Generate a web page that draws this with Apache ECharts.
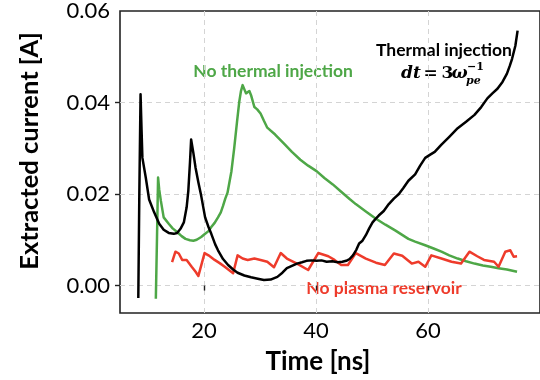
<!DOCTYPE html>
<html><head><meta charset="utf-8">
<script src="https://cdn.jsdelivr.net/npm/echarts@6/dist/echarts.min.js"></script>
<style>html,body{margin:0;padding:0;background:#fff}#c{width:540px;height:380px}</style>
</head><body><div id="c"></div>
<script>
// ---- data ----
const xTicks = [20, 40, 60];
const yTicks = [0, 0.02, 0.04, 0.06];
const yGrid = [0, 0.02, 0.04];

const thermalTime = [8.27,8.45,8.67,8.85,9.0,9.6,10.2,11.1,12.0,12.8,13.7,14.6,15.2,15.8,16.4,16.9,17.2,17.5,17.7,18.1,18.5,19.0,19.5,20.2,20.8,21.3,22.0,22.5,23.4,24.3,25.2,26.0,27.2,28.4,29.6,30.7,31.9,33.1,34.0,34.8,35.7,36.6,37.5,38.3,39.2,40.1,41.0,41.9,42.9,43.9,44.7,45.4,46.0,46.6,47.2,47.7,48.3,48.9,49.5,50.1,50.6,51.2,52.1,53.0,53.9,54.8,55.6,56.5,57.7,58.6,59.5,60.4,61.2,62.4,63.8,65.3,66.8,68.3,69.5,70.6,71.5,72.4,73.3,74.1,74.6,75.0,75.6,76.0];
const thermalCurrent = [-0.0027,0.02,0.0418,0.034,0.0279,0.0236,0.0188,0.016,0.0135,0.0122,0.0115,0.0113,0.0115,0.0124,0.0138,0.0171,0.0207,0.027,0.0319,0.029,0.0257,0.0225,0.0196,0.0149,0.0128,0.0113,0.009,0.0077,0.0058,0.0045,0.0035,0.0028,0.0022,0.0018,0.0015,0.0012,0.0013,0.0019,0.0028,0.0038,0.0043,0.0048,0.0051,0.0054,0.0055,0.0054,0.0055,0.0052,0.0053,0.0051,0.0052,0.0054,0.0058,0.0066,0.0078,0.0092,0.0098,0.011,0.0125,0.0138,0.0145,0.0153,0.0163,0.0178,0.019,0.02,0.0213,0.0229,0.0243,0.0262,0.0279,0.0286,0.0292,0.0308,0.0325,0.0344,0.0358,0.0373,0.039,0.0409,0.042,0.043,0.0445,0.0463,0.048,0.0495,0.0524,0.0557];

const noThermalTime = [11.4,11.6,11.8,12.0,12.3,12.8,13.7,14.4,15.2,16.0,16.7,17.5,18.1,18.7,19.5,20.2,20.8,21.3,21.9,22.5,23.0,23.4,23.8,24.2,24.9,25.4,25.9,26.3,26.6,26.9,27.2,27.5,27.8,28.1,28.4,29.0,29.5,30.1,30.7,31.3,32.7,34.2,35.7,37.2,38.6,40.1,41.5,43.0,44.5,46.0,47.1,48.9,50.7,52.4,54.2,56.5,57.7,59.5,61.0,62.4,63.8,65.3,66.8,68.3,69.8,71.2,72.6,74.1,75.9];
const noThermalCurrent = [-0.0029,0.01,0.0236,0.021,0.0185,0.0149,0.0135,0.0125,0.0117,0.0108,0.0102,0.0099,0.0098,0.01,0.0106,0.0113,0.0119,0.0128,0.0137,0.0149,0.016,0.0174,0.019,0.0203,0.025,0.0301,0.0358,0.0402,0.0425,0.0438,0.0434,0.042,0.0416,0.0425,0.0416,0.039,0.0385,0.0376,0.036,0.0345,0.033,0.0311,0.0292,0.0275,0.0262,0.025,0.0235,0.0221,0.0205,0.0189,0.0178,0.0162,0.0146,0.0133,0.012,0.0102,0.0096,0.0088,0.0081,0.0074,0.0066,0.0059,0.0053,0.0048,0.0044,0.0041,0.0038,0.0035,0.003];

const noPlasmaTime = [14.3,14.9,15.5,16.1,16.9,17.8,18.5,19.0,19.3,20.1,20.8,21.9,22.8,23.7,25.2,25.5,26.0,26.9,27.8,29.0,30.1,31.3,32.5,33.7,34.8,36.6,38.6,40.4,42.2,43.3,44.5,45.7,47.1,48.9,50.7,52.3,53.9,55.4,57.1,58.3,59.5,60.6,62.4,64.2,65.9,67.4,68.8,70.0,71.8,72.6,73.8,74.7,75.3,75.9];
const noPlasmaCurrent = [0.0051,0.0074,0.007,0.0056,0.0056,0.0041,0.003,0.0021,0.0018,0.0071,0.0066,0.0056,0.0049,0.0041,0.0027,0.0023,0.0066,0.0059,0.0056,0.0059,0.0056,0.0052,0.004,0.0071,0.0059,0.0048,0.0034,0.0071,0.0064,0.0056,0.0045,0.0045,0.0071,0.0059,0.005,0.0045,0.007,0.0065,0.0048,0.0052,0.0041,0.0066,0.0059,0.0052,0.0048,0.0074,0.0064,0.0056,0.0052,0.0041,0.0074,0.0077,0.0063,0.0064];

const zip = (a, b) => a.map((v, i) => [v, b[i]]);

const GREEN = '#4ea747', RED = '#ee3b2b', BLACK = '#000';
const chart = echarts.init(document.getElementById('c'), null, {renderer: 'canvas'});
const lineSeries = (data, color) => ({
  type: 'line', data, showSymbol: false, symbol: 'none', smooth: false,
  lineStyle: {color, width: 2.5, join: 'round'}, itemStyle: {color}, animation: false
});
const mathText = (x, y, text, size, italic, align) => ({
  type: 'text', x, y, style: {text, fontFamily: 'DejaVu Serif', fontSize: size, fontWeight: 'bold',
    fontStyle: italic ? 'italic' : 'normal', fill: '#000', align, verticalAlign: 'middle'}
});
chart.setOption({
  animation: false,
  backgroundColor: '#fff',
  grid: {left: 120, top: 8.5, right: -7, bottom: 67, show: true, borderColor: '#222', borderWidth: 1.6, backgroundColor: 'transparent'},
  xAxis: {
    type: 'value', min: 5, max: 80,
    axisLine: {show: false},
    axisTick: {show: true, customValues: xTicks, length: 5, lineStyle: {color: '#222', width: 1.4}},
    axisLabel: {customValues: xTicks, fontFamily: 'Lato', fontSize: 22, color: '#000', margin: 7},
    splitLine: {show: true, lineStyle: {color: '#d4d4d4', type: [5, 4], width: 1}}
  },
  yAxis: {
    type: 'value', min: -0.006, max: 0.06,
    axisLine: {show: false},
    axisTick: {show: true, customValues: yGrid, length: 5, lineStyle: {color: '#222', width: 1.4}},
    axisLabel: {customValues: yTicks, fontFamily: 'Lato', fontSize: 22, color: '#000', margin: 10,
      formatter: v => v.toFixed(2)},
    splitLine: {show: true, lineStyle: {color: '#d4d4d4', type: [5, 4], width: 1}}
  },
  series: [
    lineSeries(zip(noThermalTime, noThermalCurrent), GREEN),
    lineSeries(zip(noPlasmaTime, noPlasmaCurrent), RED),
    lineSeries(zip(thermalTime, thermalCurrent), BLACK)
  ],
  graphic: [
    {type: 'text', x: 318, y: 362, style: {text: 'Time [ns]', font: 'bold 26px Lato', fill: '#000', align: 'center', verticalAlign: 'middle'}},
    {type: 'text', x: 30, y: 151, rotation: Math.PI / 2, style: {text: 'Extracted current [A]', font: 'bold 25.5px Lato', fill: '#000', align: 'center', verticalAlign: 'middle'}},
    {type: 'text', x: 273, y: 71, style: {text: 'No thermal injection', font: 'bold 17.5px Lato', fill: GREEN, align: 'center', verticalAlign: 'middle'}},
    {type: 'text', x: 444, y: 50, style: {text: 'Thermal injection', font: 'bold 17.5px Lato', fill: '#000', align: 'center', verticalAlign: 'middle'}},
    {type: 'text', x: 384, y: 288, style: {text: 'No plasma reservoir', font: 'bold 17.5px Lato', fill: RED, align: 'center', verticalAlign: 'middle'}},
    mathText(401, 74, 'dt', 17, true, 'left'),
    mathText(430.5, 74, '=', 17, false, 'center'),
    mathText(447.5, 74, '3', 17, false, 'center'),
    mathText(459.5, 74, 'ω', 17, true, 'center'),
    mathText(467, 67, '−1', 11, false, 'left'),
    mathText(466, 81, 'pe', 11, true, 'left')
  ]
});
</script></body></html>
